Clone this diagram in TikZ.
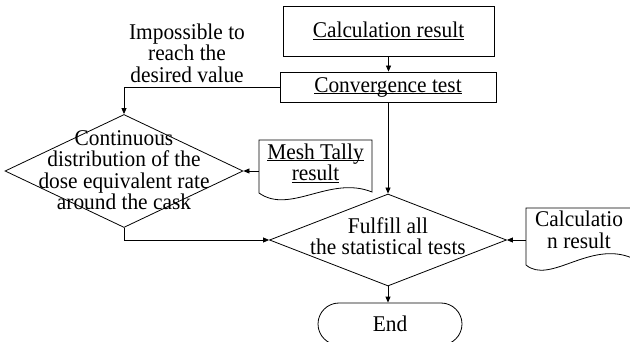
\documentclass[tikz,border=0pt]{standalone}
\usepackage{fontspec}
\setmainfont[FakeStretch=0.95]{Liberation Serif}
\usepackage{tikz}
\usetikzlibrary{arrows.meta, shapes.geometric, shapes.misc}

\newcommand{\ulin}[1]{\underline{\smash{#1}}\vphantom{#1}}

\tikzset{
	proc/.style={rectangle, draw=black, line width=0.8pt, inner sep=0pt},
	decision/.style={diamond, draw=black, line width=0.8pt, inner sep=0pt},
	docu/.style={rectangle, inner sep=0pt, align=center},
	terminal/.style={rounded rectangle, draw=black, line width=0.8pt, inner sep=0pt},
	flow/.style={line width=0.8pt, -{Triangle[length=6pt,width=5pt]}},
}

\begin{document}
\begin{tikzpicture}[x=1pt, y=-1pt, font=\fontsize{22.5}{21.5}\selectfont]
	\useasboundingbox (0,0) rectangle (630,342);

	%%% CAJAS
	\node[proc, minimum width=211pt, minimum height=50pt] (calc) at (388.5,31) {\ulin{Calculation result}};
	\node[proc, minimum width=216pt, minimum height=30pt] (conv) at (388,87) {\ulin{Convergence test}};
	\node[align=center] (nomet) at (187,53) {Impossible to\\reach the\\desired value};

	%%% ROMBOS
	\node[decision, minimum width=238pt, minimum height=113pt] (dist) at (124,171) {};
	\node[align=center] (disttext) at (124,170) {Continuous\\distribution of the\\dose equivalent rate\\around the cask};
	\node[decision, minimum width=237pt, minimum height=92pt] (fulfil) at (388,240) {};
	\node[align=center] (fulfiltext) at (388,236) {Fulfill all\\the statistical tests};

	%%% DOCUMENTOS
	\node[docu, minimum width=113pt] (mesh) at (315.5,163) {\ulin{Mesh Tally}\\\ulin{result}};
	\draw[line width=0.8pt] (259,140) -- (372,140) -- (372,192) .. controls (330,175) and (290,215) .. (259,193) -- cycle;
	\node[docu, minimum width=106pt] (calcdoc) at (579,230) {Calculatio\\n result};
	\draw[line width=0.8pt] (526,208) -- (632,208) -- (632,258) .. controls (590,240) and (550,285) .. (526,265) -- cycle;

	%%% FIN
	\node[terminal, minimum width=144pt, minimum height=42pt] (fin) at (390,324) {End};

	%%% CONEXIONES
	\draw[flow] (calc.south) -- (calc.south |- conv.north);
	\draw[flow] (conv.west) -| (dist.north);
	\draw[flow] (dist.east -| mesh.west) -- (dist.east);
	\draw[flow] (conv.south) -- (fulfil.north);
	\draw[flow] (dist.south) |- (fulfil.west);
	\draw[flow] (fulfil.east -| calcdoc.west) -- (fulfil.east);
	\draw[flow] (fulfil.south) -- (fulfil.south |- fin.north);
\end{tikzpicture}
\end{document}
